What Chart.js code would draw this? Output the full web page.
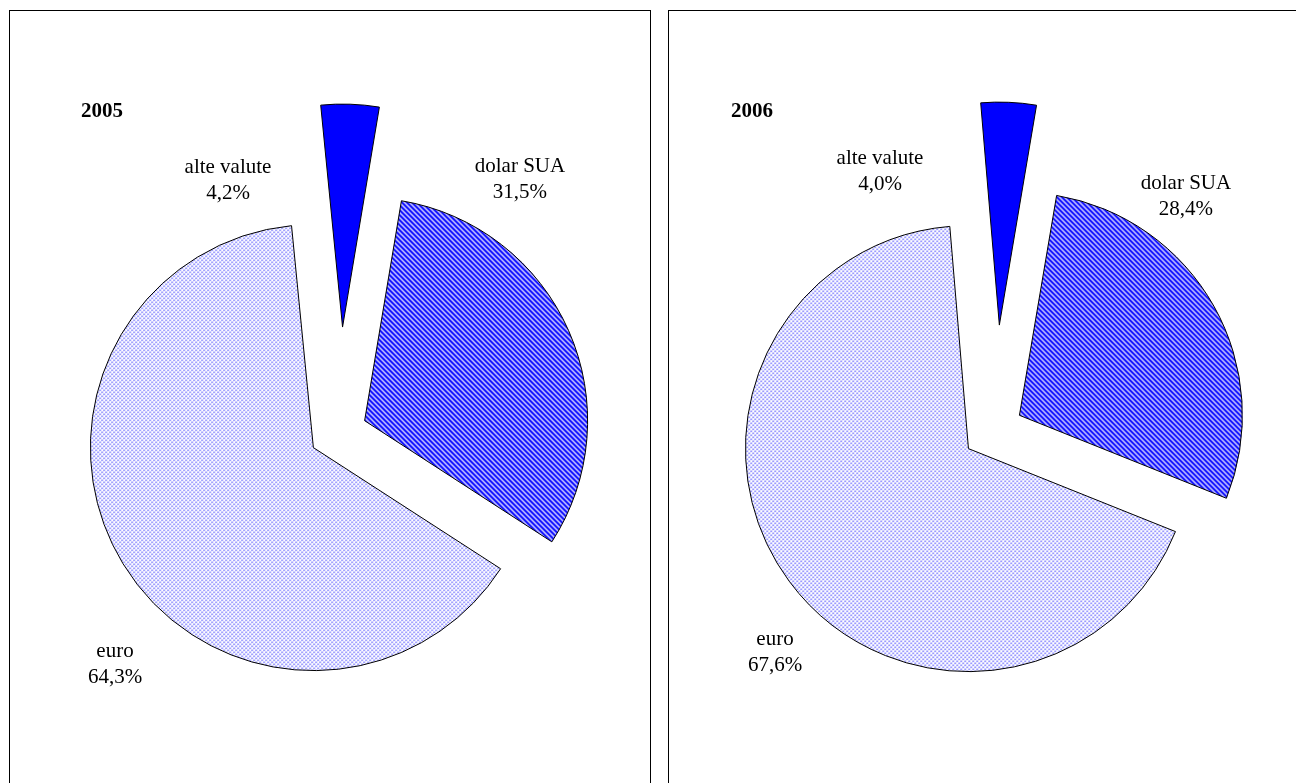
<!DOCTYPE html>
<html>
<head>
<meta charset="utf-8">
<script src="https://cdn.jsdelivr.net/npm/chart.js@4.4.1/dist/chart.umd.min.js"></script>
<style>
  html, body { margin:0; padding:0; background:#fff; }
  body { position:relative; width:1296px; height:783px; overflow:hidden;
         font-family:"Liberation Serif","Times New Roman",serif; color:#000; }
  .panel { position:absolute; border:1px solid #000; box-sizing:border-box; background:transparent; }
  canvas { position:absolute; }
  .lbl { position:absolute; font-size:21px; line-height:26px; text-align:center;
         white-space:pre; transform:translateX(-50%); }
  .title { position:absolute; font-size:21px; line-height:25px; font-weight:bold; }
</style>
</head>
<body>
<div class="panel" style="left:9px;top:10px;width:642px;height:820px;"></div>
<div class="panel" style="left:668px;top:10px;width:700px;height:820px;"></div>
<canvas id="c2005" width="760" height="760" style="left:-41px;top:52px;"></canvas>
<canvas id="c2006" width="760" height="760" style="left:615px;top:49px;"></canvas>
<script>
// ---- data ----
const categories = ['dolar SUA', 'euro', 'alte valute'];
const years = ['2005', '2006'];
const values2005 = [31.5, 64.3, 4.2];
const values2006 = [28.4, 67.6, 4.0];

// ---- layout / style (not data) ----
const layout = {
  '2005': { canvas:'c2005', rotation:9.5, explode:[28, 30, 105],
            title:[81, 98],
            labels:[[520, 152], [115, 637], [228, 153]] },
  '2006': { canvas:'c2006', rotation:9.6, explode:[28, 33, 104],
            title:[731, 98],
            labels:[[1186, 169], [775, 625], [880, 144]] }
};

function stripePattern() {
  const n = 5;
  const cols = ['#0000ff', '#0000ff', '#5a5aff', '#e6e6ff', '#9a9aff'];
  const c = document.createElement('canvas');
  c.width = n; c.height = n;
  const g = c.getContext('2d');
  for (let y = 0; y < n; y++) for (let x = 0; x < n; x++) {
    g.fillStyle = cols[(((x - y) % n) + n) % n];
    g.fillRect(x, y, 1, 1);
  }
  return g.createPattern(c, 'repeat');
}
function dotPattern() {
  const c = document.createElement('canvas');
  c.width = 4; c.height = 4;
  const g = c.getContext('2d');
  g.fillStyle = '#ffffff'; g.fillRect(0, 0, 4, 4);
  [[0, 0], [2, 2]].forEach(([x, y]) => {
    g.fillStyle = '#2a2aff'; g.fillRect(x, y, 1, 1);
    g.fillStyle = '#b4b4ff'; g.fillRect(x + 1, y, 1, 1);
    g.fillStyle = '#d2d2ff'; g.fillRect(x, y + 1, 1, 1);
  });
  return g.createPattern(c, 'repeat');
}

function makeExplode(dist) {
  return {
    id: 'explodeSlices',
    beforeDatasetsDraw(chart) {
      const ctx = chart.ctx;
      const meta = chart.getDatasetMeta(0);
      meta.data.forEach((arc, i) => {
        const mid = (arc.startAngle + arc.endAngle) / 2;
        const d = dist[i] || 0;
        ctx.save();
        ctx.translate(Math.cos(mid) * d, Math.sin(mid) * d);
        arc.draw(ctx);
        ctx.restore();
      });
      return false;
    }
  };
}

function fmt(v) { return v.toFixed(1).replace('.', ',') + '%'; }

function build(year, values) {
  const L = layout[year];
  new Chart(document.getElementById(L.canvas), {
    type: 'pie',
    data: {
      labels: categories,
      datasets: [{
        data: values,
        backgroundColor: [stripePattern(), dotPattern(), '#0000ff'],
        borderColor: '#000000',
        borderWidth: 1,
        borderJoinStyle: 'miter'
      }]
    },
    options: {
      responsive: false,
      animation: false,
      events: [],
      rotation: L.rotation,
      radius: 223,
      layout: { padding: 0 },
      plugins: { legend: { display: false }, tooltip: { enabled: false } }
    },
    plugins: [makeExplode(L.explode)]
  });
  const t = document.createElement('div');
  t.className = 'title';
  t.textContent = year;
  t.style.left = L.title[0] + 'px';
  t.style.top = L.title[1] + 'px';
  document.body.appendChild(t);
  categories.forEach((cat, i) => {
    const d = document.createElement('div');
    d.className = 'lbl';
    d.textContent = cat + '\n' + fmt(values[i]);
    d.style.left = L.labels[i][0] + 'px';
    d.style.top = L.labels[i][1] + 'px';
    document.body.appendChild(d);
  });
}

build(years[0], values2005);
build(years[1], values2006);
</script>
</body>
</html>
